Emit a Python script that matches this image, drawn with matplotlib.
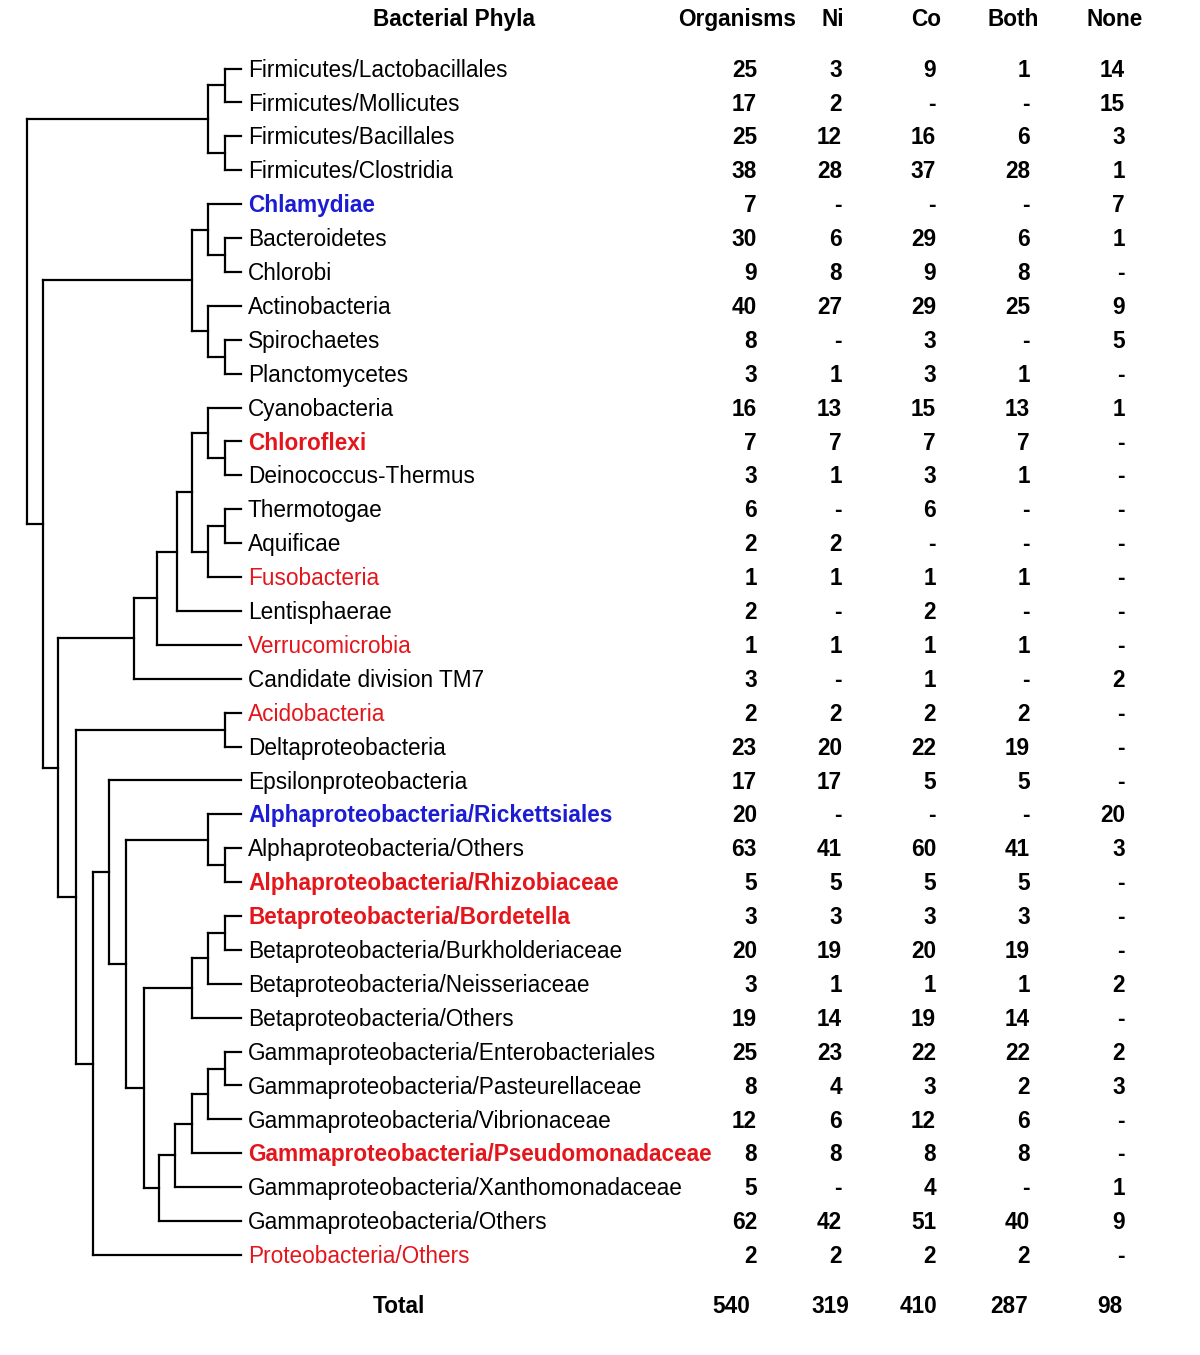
"""
Purpose: Redraw the bacterial phyla cladogram with the Ni / Co transporter table

Steps:
    1) Keep phyla names and counts in small lists
    2) Draw the cladogram from a nested list of (depth, children)
    3) Write the names, counts and totals next to the tree
"""

import matplotlib
matplotlib.use('Agg')
import matplotlib.pyplot as plt

plt.rcParams['font.family'] = ['Liberation Sans', 'DejaVu Sans']

phyla = ['Firmicutes/Lactobacillales', 'Firmicutes/Mollicutes', 'Firmicutes/Bacillales',
         'Firmicutes/Clostridia', 'Chlamydiae', 'Bacteroidetes', 'Chlorobi', 'Actinobacteria',
         'Spirochaetes', 'Planctomycetes', 'Cyanobacteria', 'Chloroflexi',
         'Deinococcus-Thermus', 'Thermotogae', 'Aquificae', 'Fusobacteria', 'Lentisphaerae',
         'Verrucomicrobia', 'Candidate division TM7', 'Acidobacteria', 'Deltaproteobacteria',
         'Epsilonproteobacteria', 'Alphaproteobacteria/Rickettsiales',
         'Alphaproteobacteria/Others', 'Alphaproteobacteria/Rhizobiaceae',
         'Betaproteobacteria/Bordetella', 'Betaproteobacteria/Burkholderiaceae',
         'Betaproteobacteria/Neisseriaceae', 'Betaproteobacteria/Others',
         'Gammaproteobacteria/Enterobacteriales', 'Gammaproteobacteria/Pasteurellaceae',
         'Gammaproteobacteria/Vibrionaceae', 'Gammaproteobacteria/Pseudomonadaceae',
         'Gammaproteobacteria/Xanthomonadaceae', 'Gammaproteobacteria/Others',
         'Proteobacteria/Others']

organisms = [25, 17, 25, 38, 7, 30, 9, 40, 8, 3, 16, 7, 3, 6, 2, 1, 2, 1, 3, 2, 23, 17,
             20, 63, 5, 3, 20, 3, 19, 25, 8, 12, 8, 5, 62, 2]
ni = [3, 2, 12, 28, 0, 6, 8, 27, 0, 1, 13, 7, 1, 0, 2, 1, 0, 1, 0, 2, 20, 17,
      0, 41, 5, 3, 19, 1, 14, 23, 4, 6, 8, 0, 42, 2]
co = [9, 0, 16, 37, 0, 29, 9, 29, 3, 3, 15, 7, 3, 6, 0, 1, 2, 1, 1, 2, 22, 5,
      0, 60, 5, 3, 20, 1, 19, 22, 3, 12, 8, 4, 51, 2]
both = [1, 0, 6, 28, 0, 6, 8, 25, 0, 1, 13, 7, 1, 0, 0, 1, 0, 1, 0, 2, 19, 5,
        0, 41, 5, 3, 19, 1, 14, 22, 2, 6, 8, 0, 40, 2]
none = [14, 15, 3, 1, 7, 1, 0, 9, 5, 0, 1, 0, 0, 0, 0, 0, 0, 0, 2, 0, 0, 0,
        20, 3, 0, 0, 0, 2, 0, 2, 3, 0, 0, 1, 9, 0]

# label colour group: 'b' blue (none), 'r' red (both), '' black
highlight = ['', '', '', '', 'b', '', '', '', '', '', '', 'r', '', '', '', 'r', '', 'r', '',
             'r', '', '', 'b', '', 'r', 'r', '', '', '', '', '', '', 'r', '', '', 'r']
bold_names = [4, 11, 22, 24, 25, 32]

# cladogram: [depth, child, child, ...], leaves are row numbers
tree = [13.0,
        [2.0, [1.0, 0, 1], [1.0, 2, 3]],
        [12.0,
         [3.0, [2.0, 4, [1.0, 5, 6]], [2.0, 7, [1.0, 8, 9]]],
         [11.1,
          [6.5,
           [5.1,
            [3.9,
             [3.0, [2.0, 10, [1.0, 11, 12]], [2.0, [1.0, 13, 14], 15]],
             16],
            17],
           18],
          [10.0,
           [1.0, 19, 20],
           [9.0,
            [8.0,
             21,
             [7.0,
              [2.0, 22, [1.0, 23, 24]],
              [5.9,
               [3.0, [2.0, [1.0, 25, 26], 27], 28],
               [5.0, [4.0, [3.0, [2.0, [1.0, 29, 30], 31], 32], 33], 34]]]],
            35]]]]]

columns = ['Organisms', 'Ni', 'Co', 'Both', 'None']

FS = 16.3
RED = '#e3161c'
BLUE = '#1c1cd2'


def draw_clade(ax, node):

    """
    Draw one clade and return its (depth, y) so the parent can join it

    :param ax: tree axes
    :param node: leaf row number or [depth, children...]
    :return: tuple of depth and y position
    """

    if isinstance(node, int):
        return 0.0, node

    depth = node[0]
    kids = [draw_clade(ax, child) for child in node[1:]]
    ys = [k[1] for k in kids]

    # horizontal branch to each child
    for kid_depth, kid_y in kids:
        ax.plot([depth, kid_depth], [kid_y, kid_y], color='k', lw=1.6,
                solid_capstyle='projecting', clip_on=False)

    # vertical joining bar
    ax.plot([depth, depth], [min(ys), max(ys)], color='k', lw=1.6,
            solid_capstyle='projecting', clip_on=False)

    return depth, (min(ys) + max(ys)) / 2.0


def fmt(value):
    return '-' if value == 0 else str(value)


def main():

    fig = plt.figure(figsize=(12, 13.55), dpi=100)
    y_top, y_bottom = -2.021, 37.95

    # tree on its own axes, depth runs right to left
    tree_ax = fig.add_axes([27 / 1200, 0, 214 / 1200, 1])
    tree_ax.set_xlim(13.0, 0.0)
    tree_ax.set_ylim(y_bottom, y_top)
    tree_ax.axis('off')
    root_depth, root_y = draw_clade(tree_ax, tree)

    # table axes in pixel-like x units
    ax = fig.add_axes([0, 0, 1, 1])
    ax.set_xlim(0, 1200)
    ax.set_ylim(y_bottom, y_top)
    ax.axis('off')

    base = 0.24  # baseline shift so text centres on the branch
    header_y = -1.49
    total_y = 36.48

    ax.text(373, header_y + base, 'Bacterial Phyla', fontsize=FS, fontweight='bold',
            ha='left', va='baseline')
    header_x = [737.5, 833, 926, 1013, 1115]
    for x, name in zip(header_x, columns):
        ax.text(x, header_y + base, name, fontsize=FS, fontweight='bold',
                ha='center', va='baseline')

    # phyla names and counts
    value_x = [757, 842, 936, 1030, 1125]
    series = [organisms, ni, co, both, none]
    for i, name in enumerate(phyla):
        colour = {'b': BLUE, 'r': RED}.get(highlight[i], 'k')
        weight = 'bold' if i in bold_names else 'normal'
        ax.text(248, i + base, name, fontsize=FS, color=colour, fontweight=weight,
                ha='left', va='baseline')
        for x, values in zip(value_x, series):
            ax.text(x, i + base, fmt(values[i]), fontsize=FS, fontweight='bold',
                    ha='right', va='baseline')

    # totals row
    ax.text(373, total_y + base, 'Total', fontsize=FS, fontweight='bold',
            ha='left', va='baseline')
    total_x = [731, 830, 918, 1009, 1110]
    for x, values in zip(total_x, series):
        ax.text(x, total_y + base, str(sum(values)), fontsize=FS, fontweight='bold',
                ha='center', va='baseline')

    fig.savefig('out.png', dpi=100, facecolor='white')


if __name__ == '__main__':
    main()
